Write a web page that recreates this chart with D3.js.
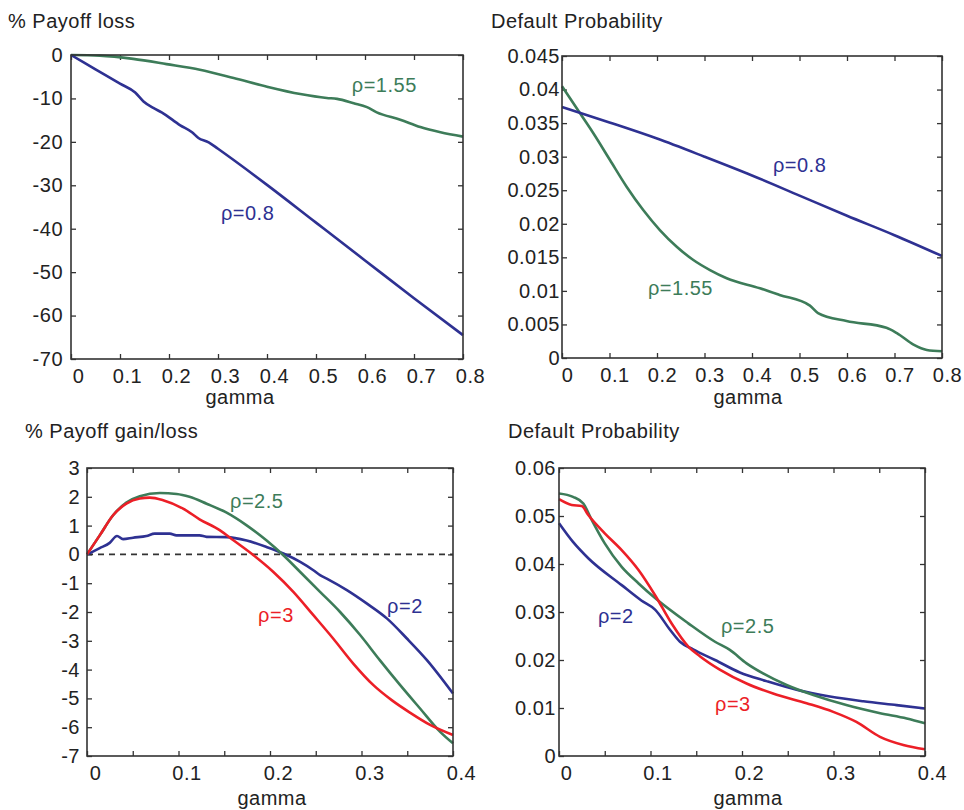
<!DOCTYPE html>
<meta charset="utf-8">
<head>
	<title>payoff and default probability vs gamma</title>
</head>

<style>
body{
	margin: 0;
	background: #fff;
}
svg{
	display: block;
	font-family: "Liberation Sans", Arial, Helvetica, sans-serif;
	letter-spacing: 0.5px;
}
.tick line, .box{
	stroke: #333;
}
.tick text{
	font-size: 20px;
	fill: #222;
}
.ttl, .xlab, .lab{
	font-size: 20px;
}
.ttl, .xlab{
	fill: #222;
}
</style>

<body>
<svg id="fig" width="964" height="810"></svg>

<script src="https://cdnjs.cloudflare.com/ajax/libs/d3/7.8.5/d3.min.js"></script>
<script>

var blue = '#2e3192', green = '#3d7c59', red = '#ec1f27';

// panel 1 : % payoff loss
var p1_x08 = [0, 0.05, 0.1, 0.131, 0.148, 0.168, 0.185, 0.223, 0.247, 0.26, 0.281, 0.3, 0.4, 0.5, 0.6, 0.7, 0.8];
var p1_y08 = [0, -3.3, -6.6, -8.65, -10.7, -12.2, -13.2, -16.2, -17.8, -19.1, -20.1, -21.6, -29.9, -38.6, -47.3, -56.0, -64.5];
var p1_x155 = [0, 0.059, 0.127, 0.195, 0.263, 0.332, 0.4, 0.468, 0.522, 0.543, 0.577, 0.604, 0.624, 0.672, 0.713, 0.754, 0.8];
var p1_y155 = [0, -0.15, -0.9, -2.1, -3.4, -5.3, -7.3, -9.0, -9.9, -10.1, -11.1, -12.0, -13.2, -14.9, -16.6, -17.8, -18.8];

// panel 2 : default probability
var p2_x08 = [0, 0.1, 0.2, 0.3, 0.4, 0.5, 0.6, 0.7, 0.8];
var p2_y08 = [0.0374, 0.0351, 0.0327, 0.0300, 0.0272, 0.0242, 0.0212, 0.0183, 0.0152];
var p2_x155 = [0, 0.038, 0.066, 0.101, 0.136, 0.171, 0.206, 0.2415, 0.2765, 0.3116, 0.3467, 0.4168, 0.458, 0.522, 0.539, 0.599, 0.683, 0.705, 0.74, 0.768, 0.8];
var p2_y155 = [0.0405, 0.03646, 0.03348, 0.0295, 0.02553, 0.02205, 0.01907, 0.01658, 0.0146, 0.0131, 0.01188, 0.01039, 0.0094, 0.0078, 0.0067, 0.0055, 0.0045, 0.0037, 0.0020, 0.0012, 0.0010];

// panel 3 : % payoff gain/loss
var p3_x2 = [0, 0.0139, 0.0248, 0.0328, 0.0394, 0.0504, 0.065, 0.074, 0.0905, 0.0978, 0.123, 0.1307, 0.1526, 0.1745, 0.196, 0.2146, 0.233, 0.2474, 0.2547, 0.262, 0.284, 0.306, 0.328, 0.3496, 0.3715, 0.4];
var p3_y2 = [0, 0.22, 0.40, 0.64, 0.53, 0.58, 0.64, 0.72, 0.72, 0.66, 0.66, 0.61, 0.60, 0.48, 0.26, 0.03, -0.26, -0.55, -0.72, -0.84, -1.24, -1.71, -2.23, -2.92, -3.67, -4.83];
var p3_x25 = [0, 0.0139, 0.0285, 0.043, 0.0577, 0.0796, 0.098, 0.112, 0.1307, 0.1526, 0.1745, 0.196, 0.2146, 0.233, 0.2547, 0.2766, 0.2985, 0.32, 0.3423, 0.364, 0.386, 0.4];
var p3_y25 = [0, 0.66, 1.36, 1.80, 2.02, 2.13, 2.10, 2.0, 1.76, 1.45, 1.01, 0.49, -0.03, -0.61, -1.30, -2.0, -2.80, -3.67, -4.54, -5.35, -6.16, -6.56];
var p3_x3 = [0, 0.0139, 0.0285, 0.043, 0.0577, 0.0686, 0.0832, 0.105, 0.123, 0.145, 0.16, 0.182, 0.2037, 0.2255, 0.2474, 0.269, 0.291, 0.313, 0.333, 0.3533, 0.375, 0.4];
var p3_y3 = [0, 0.66, 1.36, 1.76, 1.94, 1.97, 1.88, 1.59, 1.22, 0.84, 0.49, -0.03, -0.61, -1.30, -2.11, -2.92, -3.79, -4.54, -5.06, -5.50, -5.92, -6.27];

// panel 4 : default probability
var p4_x2 = [0, 0.0153, 0.032, 0.0685, 0.09, 0.105, 0.1213, 0.1322, 0.1466, 0.1705, 0.1976, 0.2268, 0.2596, 0.296, 0.3326, 0.369, 0.4];
var p4_y2 = [0.0485, 0.0446, 0.0412, 0.0356, 0.0324, 0.0305, 0.0263, 0.0238, 0.0222, 0.0200, 0.0174, 0.0156, 0.0138, 0.0124, 0.0114, 0.0106, 0.0099];
var p4_x25 = [0, 0.0153, 0.0266, 0.0357, 0.05, 0.0685, 0.0867, 0.105, 0.1413, 0.1705, 0.1867, 0.205, 0.223, 0.2487, 0.278, 0.314, 0.351, 0.38, 0.4];
var p4_y25 = [0.0547, 0.0540, 0.0526, 0.0492, 0.0443, 0.0394, 0.0360, 0.0329, 0.02764, 0.0238, 0.0221, 0.0193, 0.0172, 0.0148, 0.0127, 0.0106, 0.0089, 0.0078, 0.0068];
var p4_x3 = [0, 0.0139, 0.0248, 0.032, 0.05, 0.0685, 0.0867, 0.105, 0.1231, 0.1413, 0.1539, 0.1757, 0.205, 0.234, 0.2706, 0.2997, 0.325, 0.3508, 0.3763, 0.4];
var p4_y3 = [0.0535, 0.0523, 0.0521, 0.0502, 0.0464, 0.0429, 0.0388, 0.0335, 0.0276, 0.0228, 0.0208, 0.0180, 0.0151, 0.0130, 0.0110, 0.0092, 0.0071, 0.0040, 0.0023, 0.0014];

// tick values
var xTicks8 = [0, 0.1, 0.2, 0.3, 0.4, 0.5, 0.6, 0.7, 0.8];
var xTicks4 = [0, 0.05, 0.1, 0.15, 0.2, 0.25, 0.3, 0.35, 0.4];
var xLabels4 = [0, 0.1, 0.2, 0.3, 0.4];
var yTicks1 = [0, -10, -20, -30, -40, -50, -60, -70];
var yTicks2 = [0, 0.005, 0.01, 0.015, 0.02, 0.025, 0.03, 0.035, 0.04, 0.045];
var yTicks3 = [3, 2, 1, 0, -1, -2, -3, -4, -5, -6, -7];
var yTicks4 = [0, 0.01, 0.02, 0.03, 0.04, 0.05, 0.06];

var panels = [
	{ box: [71, 55, 463, 359], xd: [0, 0.8], yd: [-70, 0], xt: xTicks8, xl: xTicks8, yt: yTicks1, ypad: 8, xshift: 7,
	  title: '% Payoff loss', tx: 8, ty: 28, gx: 240, gy: 404, zero: false,
	  series: [
		{ x: p1_x155, y: p1_y155, c: green, lab: 'ρ=1.55', lx: 0.573, ly: -8.5 },
		{ x: p1_x08, y: p1_y08, c: blue, lab: 'ρ=0.8', lx: 0.306, ly: -38.0 }
	  ] },
	{ box: [562, 56, 942, 358], xd: [0, 0.8], yd: [0, 0.045], xt: xTicks8, xl: xTicks8, yt: yTicks2, ypad: 2, xshift: 5,
	  title: 'Default Probability', tx: 491, ty: 28, gx: 748, gy: 404, zero: false,
	  series: [
		{ x: p2_x155, y: p2_y155, c: green, lab: 'ρ=1.55', lx: 0.181, ly: 0.00939 },
		{ x: p2_x08, y: p2_y08, c: blue, lab: 'ρ=0.8', lx: 0.444, ly: 0.0277 }
	  ] },
	{ box: [87, 468, 453, 756], xd: [0, 0.4], yd: [-7, 3], xt: xTicks4, xl: xLabels4, yt: yTicks3, ypad: 7, xshift: 8,
	  title: '% Payoff gain/loss', tx: 25, ty: 438, gx: 272, gy: 805, zero: true,
	  series: [
		{ x: p3_x2, y: p3_y2, c: blue, lab: 'ρ=2', lx: 0.328, ly: -2.03 },
		{ x: p3_x25, y: p3_y25, c: green, lab: 'ρ=2.5', lx: 0.1563, ly: 1.61 },
		{ x: p3_x3, y: p3_y3, c: red, lab: 'ρ=3', lx: 0.187, ly: -2.35 }
	  ] },
	{ box: [559, 468, 925, 756], xd: [0, 0.4], yd: [0, 0.06], xt: xTicks4, xl: xLabels4, yt: yTicks4, ypad: 3, xshift: 7,
	  title: 'Default Probability', tx: 508, ty: 438, gx: 748, gy: 805, zero: false,
	  series: [
		{ x: p4_x2, y: p4_y2, c: blue, lab: 'ρ=2', lx: 0.0426, ly: 0.0277 },
		{ x: p4_x25, y: p4_y25, c: green, lab: 'ρ=2.5', lx: 0.177, ly: 0.0256 },
		{ x: p4_x3, y: p4_y3, c: red, lab: 'ρ=3', lx: 0.1705, ly: 0.0094 }
	  ] }
];

var svg = d3.select('#fig');

// matlab style numbers: no trailing zeros
function fmt(v){
	return String(+v.toFixed(4));
}

panels.forEach(function(p){
	var x = d3.scaleLinear().domain(p.xd).range([p.box[0], p.box[2]]);
	var y = d3.scaleLinear().domain(p.yd).range([p.box[3], p.box[1]]);
	var g = svg.append('g');

	// axes, ticks pointing inwards
	var ax = g.append('g').attr('transform', 'translate(0,' + p.box[3] + ')')
		.call(d3.axisBottom(x).tickValues(p.xt).tickSize(-5).tickPadding(8)
			.tickFormat(function(d){ return p.xl.some(function(v){ return Math.abs(v - d) < 1e-9; }) ? fmt(d) : ''; }));
	ax.selectAll('text').attr('dx', p.xshift).attr('y', 10).attr('dy', '0.71em');

	g.append('g').attr('transform', 'translate(0,' + p.box[1] + ')')
		.call(d3.axisTop(x).tickValues(p.xt).tickSize(-5).tickFormat(''));

	g.append('g').attr('transform', 'translate(' + p.box[0] + ',0)')
		.call(d3.axisLeft(y).tickValues(p.yt).tickSize(-5).tickPadding(p.ypad).tickFormat(fmt));

	g.append('g').attr('transform', 'translate(' + p.box[2] + ',0)')
		.call(d3.axisRight(y).tickValues(p.yt).tickSize(-5).tickFormat(''));

	g.selectAll('.domain').remove();
	g.selectAll('.tick line').attr('stroke-width', 1.3);
	g.selectAll('.tick text').attr('font-family', null).attr('font-size', null).attr('fill', null);

	if(p.zero){
		g.append('line')
			.attr('x1', x(p.xd[0])).attr('x2', x(p.xd[1]))
			.attr('y1', y(0)).attr('y2', y(0))
			.attr('stroke', '#333')
			.attr('stroke-width', 1.6)
			.attr('stroke-dasharray', '6,5');
	}

	var line = d3.line()
		.x(function(d){ return x(d[0]); })
		.y(function(d){ return y(d[1]); })
		.curve(d3.curveMonotoneX);

	p.series.forEach(function(s){
		g.append('path')
			.datum(d3.zip(s.x, s.y))
			.attr('d', line)
			.attr('fill', 'none')
			.attr('stroke', s.c)
			.attr('stroke-width', 2.6)
			.attr('stroke-linejoin', 'round');

		g.append('text')
			.attr('class', 'lab')
			.attr('x', x(s.lx))
			.attr('y', y(s.ly))
			.attr('fill', s.c)
			.text(s.lab);
	});

	g.append('rect')
		.attr('class', 'box')
		.attr('x', p.box[0]).attr('y', p.box[1])
		.attr('width', p.box[2] - p.box[0])
		.attr('height', p.box[3] - p.box[1])
		.attr('fill', 'none')
		.attr('stroke-width', 1.6);

	g.append('text').attr('class', 'ttl')
		.attr('x', p.tx).attr('y', p.ty)
		.text(p.title);

	g.append('text').attr('class', 'xlab')
		.attr('x', p.gx).attr('y', p.gy)
		.attr('text-anchor', 'middle')
		.text('gamma');
});

</script>
</body>
</html>
